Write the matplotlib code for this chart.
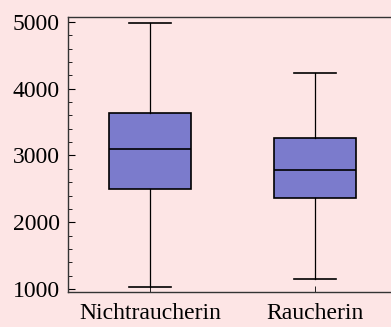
import matplotlib.pyplot as plt
from matplotlib.ticker import MultipleLocator

# five-number summaries for each group
groups = ["Nichtraucherin", "Raucherin"]
whisker_low = [1030, 1150]
q1 = [2500, 2370]
median = [3100, 2780]
q3 = [3630, 3260]
whisker_high = [4980, 4230]

bg = "#fde5e5"
box_color = "#7b7bcc"

plt.rcParams["font.family"] = ["Liberation Serif", "DejaVu Serif"]

fig = plt.figure(figsize=(3.91, 3.27), dpi=100, facecolor=bg)
ax = fig.add_axes([0.174, 0.107, 0.849, 0.8395], facecolor=bg)

stats = []
for i, name in enumerate(groups):
    stats.append({
        "label": name,
        "whislo": whisker_low[i],
        "q1": q1[i],
        "med": median[i],
        "q3": q3[i],
        "whishi": whisker_high[i],
        "fliers": [],
    })

ax.bxp(stats, positions=[1, 2], widths=0.5, patch_artist=True,
       showfliers=False,
       boxprops=dict(facecolor=box_color, edgecolor="black", linewidth=1.2),
       medianprops=dict(color="black", linewidth=1.2),
       whiskerprops=dict(color="black", linewidth=0.9),
       capprops=dict(color="black", linewidth=1.2))

ax.set_xlim(0.503, 2.515)
ax.set_ylim(955, 5067)

ax.yaxis.set_major_locator(MultipleLocator(1000))
ax.yaxis.set_minor_locator(MultipleLocator(200))
ax.tick_params(axis="y", which="major", direction="in", length=5, width=0.8,
               labelsize=17, pad=6)
ax.tick_params(axis="y", which="minor", direction="in", length=3, width=0.6)
ax.tick_params(axis="x", direction="in", length=4, width=0.6,
               labelsize=17, pad=8)
ax.tick_params(right=False, top=False)

for side in ["left", "bottom", "top"]:
    ax.spines[side].set_color("#333333")
    ax.spines[side].set_linewidth(1.0)
ax.spines["right"].set_visible(False)

fig.savefig("out.png", dpi=100, facecolor=bg)
